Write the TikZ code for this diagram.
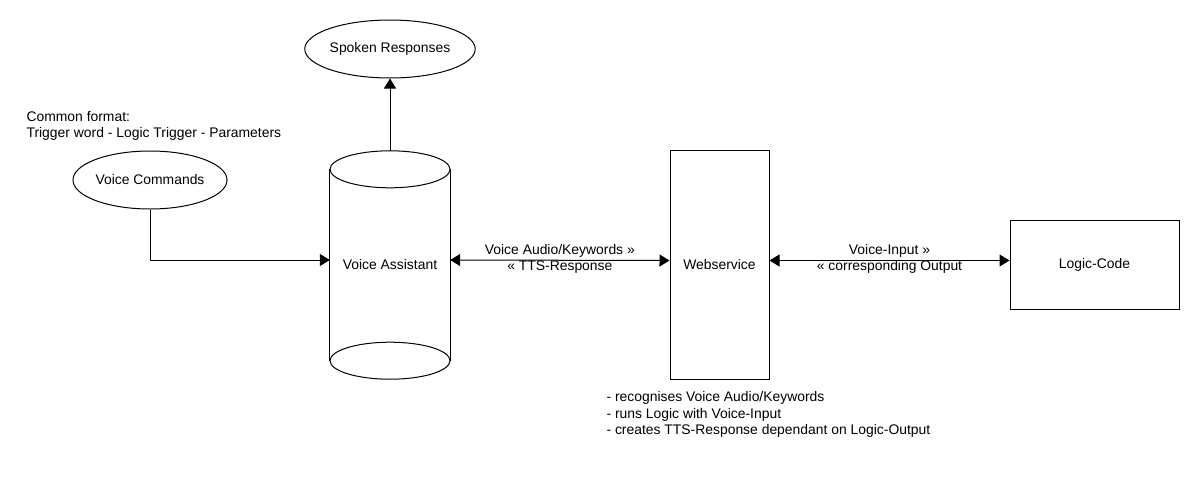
\documentclass[tikz,border=0pt]{standalone}
\usepackage{fontspec}
\setmainfont{Liberation Sans}
\usetikzlibrary{arrows.meta,shapes.geometric}

\begin{document}
\begin{tikzpicture}[
  x=1pt,y=-1pt,
  every node/.style={font=\fontsize{13.9}{16.5}\selectfont, align=center},
  bubble/.style={ellipse, draw, line width=1pt, minimum width=139, minimum height=58, inner sep=0pt},
  box/.style={rectangle, draw, line width=1pt, inner sep=0pt},
  flow/.style={-{Triangle[length=10pt,width=12pt]}, line width=1pt},
  twoway/.style={{Triangle[length=10pt,width=12pt]}-{Triangle[length=10pt,width=12pt]}, line width=1pt}]

\useasboundingbox (0,0) rectangle (1200,490);

% Position the nodes at coordinates
\node[bubble] (spokenResponses) at (390,49) {Spoken Responses};
\node[bubble] (voiceCommands) at (150,180) {Voice Commands};
\node[anchor=west, align=left] (commonFormat) at (23,126) {Common format:\\Trigger word - Logic Trigger - Parameters};
\node[minimum width=120, minimum height=228, inner sep=0pt] (voiceAssistant) at (390,265) {Voice Assistant};
\node[box, minimum width=99, minimum height=229] (webservice) at (719.5,264.5) {Webservice};
\node[box, minimum width=169, minimum height=89] (logicCode) at (1094.5,264.5) {Logic-Code};
\node[anchor=north west, align=left] (webserviceNotes) at (603,388)
  {- recognises Voice Audio/Keywords\\- runs Logic with Voice-Input\\- creates TTS-Response dependant on Logic-Output};

% Draw the cylinder of the voice assistant
\draw[line width=1pt] ([yshift=-18.5pt]voiceAssistant.north) ellipse [x radius=60, y radius=18.5];
\draw[line width=1pt] ([yshift=18.5pt]voiceAssistant.south) ellipse [x radius=60, y radius=18.5];
\draw[line width=1pt] ([yshift=-18.5pt]voiceAssistant.north west) -- ([yshift=18.5pt]voiceAssistant.south west);
\draw[line width=1pt] ([yshift=-18.5pt]voiceAssistant.north east) -- ([yshift=18.5pt]voiceAssistant.south east);

% Draw the arrows between the nodes and label them.
\draw [flow] (voiceAssistant.north) -- (spokenResponses.south);
\draw [flow] (voiceCommands.south) |- ([yshift=5pt]voiceAssistant.west);
\draw [twoway] ([yshift=5pt]voiceAssistant.east) -- node[yshift=1.5pt] {Voice Audio/Keywords »\\« TTS-Response} ([yshift=4pt]webservice.west);
\draw [twoway] ([yshift=4pt]webservice.east) -- node[yshift=1.5pt] {Voice-Input »\\« corresponding Output} ([yshift=4pt]logicCode.west);

\end{tikzpicture}
\end{document}
